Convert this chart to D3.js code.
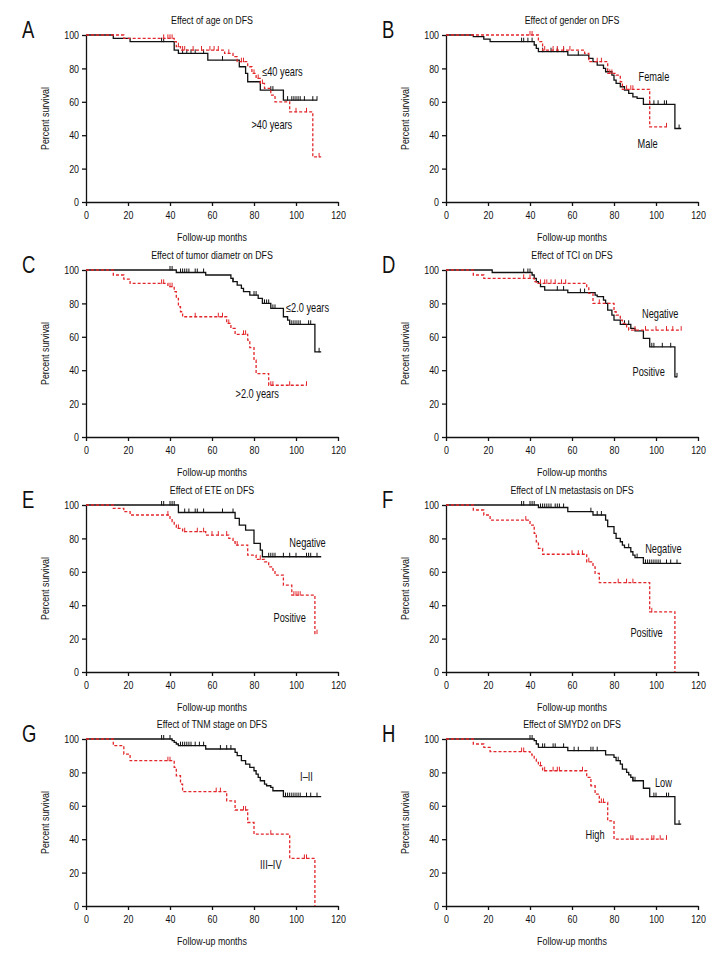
<!DOCTYPE html>
<html>
<head>
<meta charset="utf-8">
<script src="https://cdn.jsdelivr.net/npm/d3@7"></script>
<style>
  html, body { margin: 0; padding: 0; background: #fff; }
  svg text { font-family: "Liberation Sans", Arial, sans-serif; fill: #111; }
</style>
</head>
<body>
<svg id="chart" width="720" height="960"></svg>
<script>
// ---------- DATA ----------
const panelLetters = ["A","B","C","D","E","F","G","H"];
const panelTitles = [
  "Effect of age on DFS",
  "Effect of gender on DFS",
  "Effect of tumor diametr on DFS",
  "Effect of TCI on DFS",
  "Effect of ETE on DFS",
  "Effect of LN metastasis on DFS",
  "Effect of TNM stage on DFS",
  "Effect of SMYD2 on DFS"
];
const xTicks = [0, 20, 40, 60, 80, 100, 120];
const yTicks = [0, 20, 40, 60, 80, 100];
const xLabel = "Follow-up months";
const yLabel = "Percent survival";

// black (solid) series: steps [month, survival after drop], censor months, last month
const blackSteps = [
  [[13,98],[21,96],[42,91],[44,89],[58,85],[73,81],[76,77],[77,72],[83,67],[94,61]],
  [[13,99],[18,97.5],[21,96],[42,94],[43,92],[44,90],[58,88],[68,86],[70,84],[72,82],[75,80],[76,78],[79,76],[80,73],[81,71],[83,69],[85,67],[87,65],[89,63],[91,62],[94,58.5],[109,44]],
  [[43,98.5],[57,97],[69,95],[70,93],[72,91],[74,89],[75,87],[78,85],[82,83],[84,80],[88,77],[94,72],[96,70],[97,67.5],[109,51]],
  [[22,98.5],[41,97],[42,95],[43,93],[44,92],[45,90],[47,88],[58,86.5],[71,85],[72,84],[75,82],[76,80],[77,76],[79,73],[80,70],[83,67.5],[88,65],[90,63.5],[94,59],[97,54],[109,36]],
  [[44,95.5],[71,92],[73,88],[76,85],[80,77],[83,73],[84,69]],
  [[44,98.5],[58,96],[70,94],[76,91],[77,87],[80,83],[81,80],[83,78],[84,76],[85,74.5],[88,72],[89,70],[90,68.5],[94,65]],
  [[41,99],[42,98],[43,97],[44,96],[57,94],[71,92],[72,90],[74,87],[76,85],[78,83],[80,81],[81,79],[82,77],[83,75],[85,73],[86,72],[88,71],[89,69],[94,65.5]],
  [[42,99],[43,97],[44,95],[58,93],[76,90.5],[80,89],[81,87],[83,85],[84,82],[86,80],[87,78.5],[88,77],[89,75],[94,70.5],[97,65.5],[109,49]]
];
const blackCensors = [
  [36,37,46,48,50,52,56,65,88,89,96,98,99,100,101,102,104,108,110],
  [36,37,39,41,46,50,53,56,63,97,99,101,104,105,111],
  [40,41,45,46,47,48,49,52,53,56,70,80,81,85,86,87,89,90,98,99,100,101,102,106,107,111],
  [37,39,40,53,56,64,66,85,87,98,99,103,107,110],
  [36,37,40,41,42,47,49,52,53,56,65,70,87,88,89,90,94,97,100,105,106,107,110],
  [36,37,40,41,42,45,46,47,48,49,50,52,53,54,56,69,72,74,87,91,95,96,97,98,99,100,101,102,105,107,110],
  [36,37,40,45,46,47,48,49,50,52,54,56,64,67,69,95,96,97,98,99,100,101,102,105,107,110],
  [40,41,46,47,51,52,56,61,63,69,70,72,82,89,90,99,100,105,106,111]
];
const blackEnd = [110, 112, 112, 110, 112, 112, 112, 112];

// red (dashed) series
const redSteps = [
  [[18,98],[42,96],[43,93],[45,91],[66,89],[70,87],[72,84],[77,81],[79,77],[81,74],[83,71],[85,68],[88,64],[90,60],[97,54],[108,27]],
  [[44,96],[46,91],[66,89],[68,84],[77,77],[81,76],[83,72],[84,67.5],[97,45]],
  [[13,97],[18,94.5],[21,92],[39,90],[42,87],[43,83],[44,78],[45,75],[46,72],[67,68],[69,65],[71,61.5],[77,58],[78,53.5],[80,46],[81,38],[87,31]],
  [[13,97],[18,95],[42,93],[43,92],[67,90],[68,86],[70,80],[80,75],[81,73],[83,70],[84,68],[86,66],[87,64]],
  [[13,98],[18,96],[21,94],[40,92],[41,90],[42,88],[43,86],[46,84],[57,82],[68,80],[70,78],[71,76],[77,70],[81,67.5],[85,66],[87,63],[89,61],[90,58],[94,52],[98,46],[109,23]],
  [[13,97],[18,94],[21,91],[40,88],[42,83],[43,78],[44,74],[46,70.5],[67,66],[70,63],[71,59],[73,53.5],[97,36],[109,0]],
  [[13,96],[18,91],[21,87],[42,83],[43,78],[45,73],[46,68.5],[67,63],[71,57.5],[77,50],[80,43],[97,28.5],[109,0]],
  [[13,97],[18,95],[21,92.5],[40,91],[41,90],[42,88],[43,86],[44,84],[46,81],[67,77],[69,72],[71,67],[73,62],[77,51],[80,40]]
];
const redCensors = [
  [37,39,40,41,44,46,47,51,55,59,61,63,68,74,75,80,82,84,100,105,111],
  [40,41,47,51,53,56,59,72,74,78,79,86,88,89,105],
  [36,37,40,41,52,63,65,68,75,76,88,89,97,105],
  [37,40,45,47,48,50,52,55,57,73,90,95,100,105,108,112],
  [39,44,47,53,56,60,63,67,72,83,99,100,101,102,110],
  [38,60,63,65,68,82,86,89,98],
  [39,40,62,64,75,76,88,104,105],
  [36,37,45,47,51,53,54,65,74,75,88,89,98,99,102,105]
];
const redEnd = [112, 105, 105, 112, 110, 109, 109, 105];

// group labels, anchored in data units [month, percent]
const groupLabels = [
  [["\u226440 years", 93.5, 78], [">40 years", 88.5, 46]],
  [["Female", 99, 75], ["Male", 96, 35]],
  [["\u22642.0 years", 105.5, 77.5], [">2.0 years", 81.5, 26]],
  [["Negative", 102, 73.5], ["Positive", 96.5, 39]],
  [["Negative", 105.5, 77.5], ["Positive", 97, 32.5]],
  [["Negative", 103.5, 73.5], ["Positive", 95.5, 23.5]],
  [["I\u2013II", 105, 77.5], ["III\u2013IV", 88, 24.5]],
  [["Low", 103.5, 74], ["High", 71, 42.5]]
];

// ---------- LAYOUT ----------
const colX = [86, 446];
const rowY = [35, 270, 505, 739];
const W = 252, H = 167;
const RED = "#e2262b";
const SX = 0.77; // horizontal condensing of text
const FS = "11.5px";

const svg = d3.select("#chart");

function levelAt(steps, t) {
  let s = 100;
  for (const [tt, v] of steps) { if (tt <= t) s = v; else break; }
  return s;
}
function ctext(parent, x, y, txt, size, anchor, rot) {
  return parent.append("text")
    .attr("transform", `translate(${x},${y})${rot ? ` rotate(${rot})` : ""} scale(${SX},1)`)
    .attr("text-anchor", anchor).style("font-size", size).text(txt);
}

panelLetters.forEach((letter, i) => {
  const ox = colX[i % 2], oy = rowY[Math.floor(i / 2)];
  const g = svg.append("g").attr("transform", `translate(${ox},${oy})`);
  const x = d3.scaleLinear().domain([0, 120]).range([0, W]);
  const y = d3.scaleLinear().domain([0, 100]).range([H, 0]);

  // panel letter
  ctext(g, -64, 3, letter, "24px", "start");
  // title
  ctext(g, W / 2, -15, panelTitles[i], FS, "middle").attr("dy", "0.35em");

  // axes
  const xa = g.append("g").attr("transform", `translate(0,${H})`)
    .call(d3.axisBottom(x).tickValues(xTicks).tickSize(4).tickSizeOuter(0).tickPadding(5));
  const ya = g.append("g")
    .call(d3.axisLeft(y).tickValues(yTicks).tickSize(4).tickSizeOuter(0).tickPadding(3));
  [xa, ya].forEach(a => {
    a.select(".domain").attr("stroke", "#111").attr("stroke-width", 1.3);
    a.selectAll(".tick line").attr("stroke", "#111").attr("stroke-width", 1.3);
    a.selectAll(".tick text").style("font-size", FS).attr("fill", "#111")
      .attr("transform", `scale(${SX},1)`);
  });
  ya.selectAll(".tick text").attr("x", -7 / SX);

  // axis labels
  ctext(g, W / 2, H + 35, xLabel, FS, "middle").attr("dy", "0.35em");
  ctext(g, -41, H / 2, yLabel, FS, "middle", -90).attr("dy", "0.35em");

  const line = d3.line().x(d => x(d[0])).y(d => y(d[1])).curve(d3.curveStepAfter);

  const series = [
    { steps: blackSteps[i], cens: blackCensors[i], end: blackEnd[i], color: "#111", dash: null },
    { steps: redSteps[i], cens: redCensors[i], end: redEnd[i], color: RED, dash: "3,2" }
  ];
  series.forEach(s => {
    const last = s.steps.length ? s.steps[s.steps.length - 1][1] : 100;
    const pts = [[0, 100], ...s.steps, [s.end, last]];
    g.append("path").attr("d", line(pts)).attr("fill", "none")
      .attr("stroke", s.color).attr("stroke-width", 1.3)
      .attr("stroke-dasharray", s.dash);
    g.selectAll(null).data(s.cens).enter().append("line")
      .attr("x1", d => x(d)).attr("x2", d => x(d))
      .attr("y1", d => y(levelAt(s.steps, d)) + 0.5)
      .attr("y2", d => y(levelAt(s.steps, d)) - 4)
      .attr("stroke", s.color).attr("stroke-width", 1);
  });

  groupLabels[i].forEach(([txt, lx, ly]) => {
    ctext(g, x(lx), y(ly), txt, "12px", "middle").attr("dy", "0.35em");
  });
});
</script>
</body>
</html>
